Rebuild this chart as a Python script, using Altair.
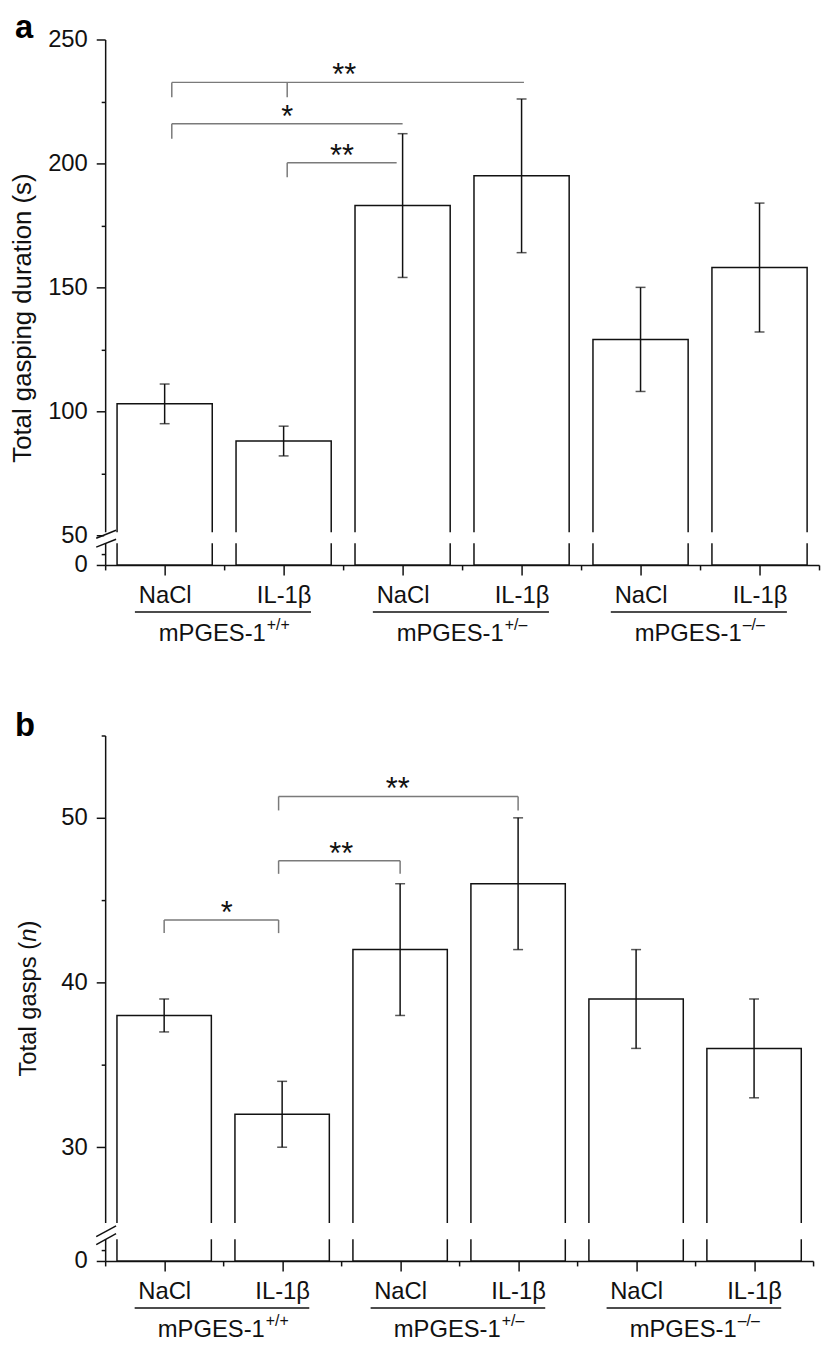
import altair as alt
import pandas as pd

# ---------------- data ----------------
treatments = ["NaCl", "IL-1β", "NaCl", "IL-1β", "NaCl", "IL-1β"]
genotype = "mPGES-1"
genotype_sup = ["+/+", "+/\u2013", "\u2013/\u2013"]

dur_mean = [103, 88, 183, 195, 129, 158]
dur_lo = [95, 82, 154, 164, 108, 132]
dur_hi = [111, 94, 212, 226, 150, 184]

gasp_mean = [38, 32, 42, 46, 39, 36]
gasp_lo = [37, 30, 38, 42, 36, 33]
gasp_hi = [39, 34, 46, 50, 42, 39]

a_yticks = [0, 5, 50, 75, 100, 125, 150, 175, 200, 225, 250]
b_yticks = [0, 5, 30, 35, 40, 45, 50, 55]

# significance brackets (x in bar-index units, y in data units)
a_br_x1 = [0.06, 0.06, 1.03]
a_br_x2 = [3.02, 2.0, 1.95]
a_br_y = [232.7, 216.0, 200.3]
a_br_label = ["**", "*", "**"]
a_br_label_x = [1.51, 1.03, 1.49]
a_tick_x = [0.06, 1.03, 0.06, 1.03]
a_tick_top = [232.7, 232.7, 216.0, 200.3]
a_tick_bot = [226.7, 226.7, 210.0, 194.4]

b_br_x1 = [0.0, 0.97, 0.97]
b_br_x2 = [0.97, 2.0, 3.0]
b_br_y = [43.8, 47.4, 51.3]
b_br_label = ["*", "**", "**"]
b_br_label_x = [0.53, 1.5, 1.98]
b_tick_x = [0.0, 0.97, 0.97, 2.0, 0.97, 3.0]
b_tick_top = [43.8, 43.8, 47.4, 47.4, 51.3, 51.3]
b_tick_bot = [43.0, 43.0, 46.6, 46.6, 50.45, 50.45]

FONT = "Liberation Sans"
INK = "#111111"
BRK = "#7a7a7a"


def make_panel(means, los, his, ydomain, yrange, yticks, major_step, width, height,
               br_x1, br_x2, br_y, br_lab, br_lab_x, tk_x, tk_top, tk_bot,
               mask_lo, mask_hi, slashes, letter, letter_y, title_layers):
    n = len(means)
    df = pd.DataFrame({"pos": list(range(n)), "mean": means, "lo": los, "hi": his})
    df["left"] = df["pos"] - 0.4
    df["right"] = df["pos"] + 0.4
    df["zero"] = 0

    xs = alt.Scale(domain=[-0.5, n - 0.5], nice=False, zero=False)
    ys = alt.Scale(domain=ydomain, range=yrange, nice=False, zero=False)

    common = dict(title=None, grid=False, domainColor=INK, domainWidth=1.5,
                  tickColor=INK, tickWidth=1.5, labelColor=INK, labelFontSize=24,
                  labelFont=FONT, labelFlush=False, labelOverlap=False, labelPadding=9)

    lab_arr = "[" + ",".join("'" + t + "'" for t in treatments) + "]"
    xaxis = alt.Axis(values=[i / 2 for i in range(-1, 2 * n)],
                     labelExpr=f"datum.value % 1 != 0 ? '' : {lab_arr}[datum.value]",
                     tickSize={"condition": {"test": "datum.value % 1 != 0", "value": 5}, "value": 10},
                     **common)
    yaxis = alt.Axis(values=yticks,
                     labelExpr=f"datum.value % {major_step} == 0 ? datum.label : ''",
                     tickSize={"condition": {"test": f"datum.value % {major_step} != 0", "value": 4}, "value": 9},
                     **common)

    def X(f):
        return alt.X(f, type="quantitative", scale=xs, axis=xaxis)

    def Y(f):
        return alt.Y(f, type="quantitative", scale=ys, axis=yaxis)

    bars = alt.Chart(df).mark_bar(fill="white", stroke=INK, strokeWidth=1.5).encode(
        x=X("left"), x2="right", y=Y("mean"), y2="zero")
    err = alt.Chart(df).mark_rule(color=INK, strokeWidth=1.5).encode(
        x=X("pos"), y=Y("lo"), y2="hi")
    cap_hi = alt.Chart(df).mark_tick(orient="horizontal", size=10, thickness=1.5, color=INK).encode(
        x=X("pos"), y=Y("hi"))
    cap_lo = alt.Chart(df).mark_tick(orient="horizontal", size=10, thickness=1.5, color=INK).encode(
        x=X("pos"), y=Y("lo"))

    mdf = pd.DataFrame({"m1": [mask_lo], "m2": [mask_hi]})
    mask = alt.Chart(mdf).mark_rect(fill="white").encode(
        x=alt.value(-1), x2=alt.value(width + 2), y=Y("m1"), y2="m2")

    one = pd.DataFrame({"k": [0]})
    slash_layers = [
        alt.Chart(one).mark_rule(color=INK, strokeWidth=1.5).encode(
            x=alt.value(-9), x2=alt.value(11), y=alt.value(s[0]), y2=alt.value(s[1]))
        for s in slashes
    ]

    bdf = pd.DataFrame({"x1": br_x1, "x2": br_x2, "y": br_y, "lab": br_lab, "lx": br_lab_x})
    hseg = alt.Chart(bdf).mark_rule(color=BRK, strokeWidth=1.5).encode(
        x=X("x1"), x2="x2", y=Y("y"))
    tdf = pd.DataFrame({"x": tk_x, "t": tk_top, "b": tk_bot})
    vseg = alt.Chart(tdf).mark_rule(color=BRK, strokeWidth=1.5).encode(
        x=X("x"), y=Y("t"), y2="b")
    stars = alt.Chart(bdf).mark_text(fontSize=31, baseline="alphabetic", dy=3, color=INK).encode(
        x=X("lx"), y=Y("y"), text="lab")

    groups = list(range(n // 2))
    gdf = pd.DataFrame({
        "g": [2 * g + 0.5 for g in groups],
        "u1": [2 * g - 0.25 for g in groups],
        "u2": [2 * g + 1.23 for g in groups],
        "main": [genotype] * len(groups),
        "sup": genotype_sup,
    })
    underline = alt.Chart(gdf).mark_rule(color=INK, strokeWidth=1.5).encode(
        x=X("u1"), x2="u2", y=alt.value(height + 47.5))
    gmain = alt.Chart(gdf).mark_text(align="right", baseline="alphabetic", fontSize=24, dx=42,
                                     color=INK).encode(
        x=X("g"), y=alt.value(height + 77), text="main")
    gsup = alt.Chart(gdf).mark_text(align="left", baseline="alphabetic", fontSize=16, dx=43, dy=-11,
                                    color=INK).encode(
        x=X("g"), y=alt.value(height + 77), text="sup")

    let = alt.Chart(one).mark_text(fontSize=33, fontWeight="bold", align="left",
                                   baseline="alphabetic", color="#000").encode(
        x=alt.value(-91), y=alt.value(letter_y), text=alt.value(letter))

    layers = [bars, err, cap_lo, cap_hi, mask] + slash_layers + [hseg, vseg, stars,
                                                                underline, gmain, gsup, let]
    layers += title_layers
    return alt.layer(*layers).properties(width=width, height=height)


one = pd.DataFrame({"k": [0]})
title_a = [
    alt.Chart(one).mark_text(angle=270, fontSize=26, align="center", baseline="alphabetic",
                             color=INK).encode(
        x=alt.value(-75), y=alt.value(281), text=alt.value("Total gasping duration (s)"))
]
P = 208
title_b = [
    alt.Chart(one).mark_text(angle=270, fontSize=24, align="right", baseline="alphabetic",
                             color=INK).encode(
        x=alt.value(-70), y=alt.value(P), text=alt.value("Total gasps (")),
    alt.Chart(one).mark_text(angle=270, fontSize=24, align="left", baseline="alphabetic",
                             fontStyle="italic", color=INK).encode(
        x=alt.value(-70), y=alt.value(P), text=alt.value("n")),
    alt.Chart(one).mark_text(angle=270, fontSize=24, align="left", baseline="alphabetic",
                             color=INK).encode(
        x=alt.value(-70), y=alt.value(P - 13.3), text=alt.value(")")),
]

panel_a = make_panel(dur_mean, dur_lo, dur_hi,
                     [0, 10, 50, 250], [530, 508, 500, 0], a_yticks, 50, 720, 530,
                     a_br_x1, a_br_x2, a_br_y, a_br_label, a_br_label_x,
                     a_tick_x, a_tick_top, a_tick_bot,
                     10, 51.2, [(503, 495), (512, 504)], "a", -2, title_a)

panel_b = make_panel(gasp_mean, gasp_lo, gasp_hi,
                     [0, 10, 25, 55], [530, 508, 498.3, 0], b_yticks, 10, 714, 530,
                     b_br_x1, b_br_x2, b_br_y, b_br_label, b_br_label_x,
                     b_tick_x, b_tick_top, b_tick_bot,
                     10, 25.4, [(505.5, 494.5), (513.5, 502.5)], "b", 0, title_b)

chart = alt.vconcat(panel_a, panel_b, spacing=172, bounds="flush",
                    padding={"top": -2, "left": 2, "right": 0, "bottom": 0}).configure(
    font=FONT).configure_view(stroke=None)

chart.save("out.html", embed_options={"renderer": "svg", "actions": False})
